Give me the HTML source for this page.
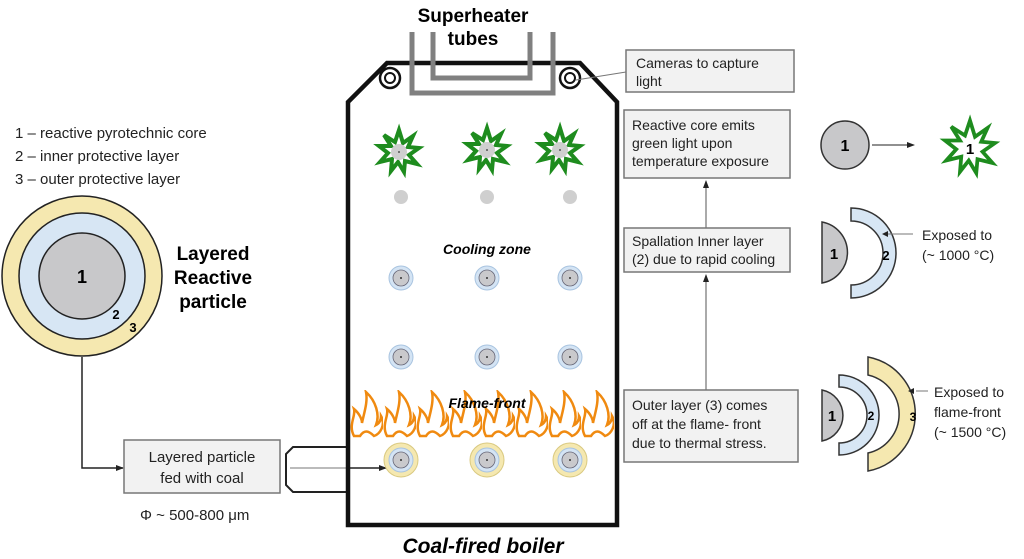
<!DOCTYPE html>
<html><head><meta charset="utf-8"><style>
body{margin:0;background:#fff}
svg{display:block;font-family:"Liberation Sans",Arial,sans-serif}
</style></head><body>
<svg width="1024" height="559" viewBox="0 0 1024 559" xmlns="http://www.w3.org/2000/svg">
<defs>
<marker id="ar" markerWidth="8" markerHeight="8" refX="7" refY="4" orient="auto" markerUnits="userSpaceOnUse"><path d="M0,1 L8,4 L0,7 z" fill="#222"/></marker>
<g id="star"><polygon points="0,-22 4,-9 14,-16 9,-5 20,-4 10,3 18,12 6,9 5,20 -1,10 -8,19 -7,7 -19,10 -11,1 -20,-6 -8,-6 -15,-17 -4,-10" fill="#fff" stroke="#1e8c1e" stroke-width="4" stroke-linejoin="miter"/><circle r="8" fill="#cfcfcf"/><circle r="1" fill="#555"/></g>
<g id="pb"><circle r="12" fill="#d4e4f4" stroke="#a9c4e0" stroke-width="1"/><circle r="8" fill="#c9c9cc" stroke="#667" stroke-width="0.8"/><circle r="1" fill="#333"/></g>
<g id="py"><circle r="17" fill="#f5e8b0" stroke="#d9c980" stroke-width="1"/><use href="#pb"/></g>
<pattern id="fl" x="350" y="390" width="33" height="48" patternUnits="userSpaceOnUse">
<path d="M4,46 C-2,35 6,26 4,19 C10,24 12,30 12,33 C14,23 18,12 16,2 C26,11 30,25 26,35 C30,33 31,30 31,26 C36,35 30,44 24,46 C18,40 14,40 10,46 Z" fill="#fff" stroke="#f08a10" stroke-width="2.5"/>
</pattern>
</defs>

<text x="15" y="138" font-size="15" fill="#222">1 – reactive pyrotechnic core</text>
<text x="15" y="161" font-size="15" fill="#222">2 – inner protective layer</text>
<text x="15" y="184" font-size="15" fill="#222">3 – outer protective layer</text>

<circle cx="82" cy="276" r="80" fill="#f5e8b0" stroke="#222" stroke-width="1.5"/>
<circle cx="82" cy="276" r="63" fill="#d7e6f4" stroke="#222" stroke-width="1.5"/>
<circle cx="82" cy="276" r="43" fill="#c8c8ca" stroke="#222" stroke-width="1.5"/>
<text x="82" y="283" font-size="18" font-weight="bold" text-anchor="middle">1</text>
<text x="116" y="319" font-size="13" font-weight="bold" text-anchor="middle">2</text>
<text x="133" y="332" font-size="13" font-weight="bold" text-anchor="middle">3</text>
<text x="213" y="260" font-size="19" font-weight="bold" text-anchor="middle">Layered</text>
<text x="213" y="284" font-size="19" font-weight="bold" text-anchor="middle">Reactive</text>
<text x="213" y="308" font-size="19" font-weight="bold" text-anchor="middle">particle</text>

<polyline points="82,357 82,468 123,468" fill="none" stroke="#222" stroke-width="1.5" marker-end="url(#ar)"/>
<rect x="124" y="440" width="156" height="53" fill="#f2f2f2" stroke="#777" stroke-width="1.5"/>
<text x="202" y="462" font-size="15" text-anchor="middle" fill="#222">Layered particle</text>
<text x="202" y="483" font-size="15" text-anchor="middle" fill="#222">fed with coal</text>
<text x="140" y="520" font-size="15" fill="#222">Φ ~ 500-800 μm</text>

<path d="M348,447 L293,447 L286,454 L286,485 L293,492 L348,492" fill="none" stroke="#222" stroke-width="2"/>
<line x1="290" y1="468" x2="386" y2="468" stroke="#777" stroke-width="1"/>
<line x1="348" y1="468" x2="386" y2="468" stroke="#222" stroke-width="1.5" marker-end="url(#ar)"/>

<polygon points="387,63 580,63 617,102 617,525 348,525 348,102" fill="none" stroke="#111" stroke-width="4.5"/>
<polyline points="412,32 412,93 553,93 553,32" fill="none" stroke="#808080" stroke-width="5"/>
<polyline points="433,32 433,78 530,78 530,32" fill="none" stroke="#808080" stroke-width="5"/>
<circle cx="390" cy="78" r="10" fill="#fff" stroke="#111" stroke-width="2.5"/><circle cx="390" cy="78" r="5" fill="#fff" stroke="#111" stroke-width="2"/>
<circle cx="570" cy="78" r="10" fill="#fff" stroke="#111" stroke-width="2.5"/><circle cx="570" cy="78" r="5" fill="#fff" stroke="#111" stroke-width="2"/>
<text x="473" y="22" font-size="19" font-weight="bold" text-anchor="middle">Superheater</text>
<text x="473" y="45" font-size="19" font-weight="bold" text-anchor="middle">tubes</text>

<use href="#star" x="399" y="152"/><use href="#star" x="487" y="150"/><use href="#star" x="560" y="150"/>
<g fill="#cfcfcf"><circle cx="401" cy="197" r="7"/><circle cx="487" cy="197" r="7"/><circle cx="570" cy="197" r="7"/></g>
<text x="487" y="254" font-size="14" font-weight="bold" font-style="italic" text-anchor="middle">Cooling zone</text>
<use href="#pb" x="401" y="278"/><use href="#pb" x="487" y="278"/><use href="#pb" x="570" y="278"/>
<use href="#pb" x="401" y="357"/><use href="#pb" x="487" y="357"/><use href="#pb" x="570" y="357"/>
<rect x="350" y="390" width="265" height="48" fill="url(#fl)"/>
<text x="487" y="408" font-size="14" font-weight="bold" font-style="italic" text-anchor="middle">Flame-front</text>
<use href="#py" x="401" y="460"/><use href="#py" x="487" y="460"/><use href="#py" x="570" y="460"/>
<text x="483" y="553" font-size="21" font-weight="bold" font-style="italic" text-anchor="middle">Coal-fired boiler</text>

<line x1="626" y1="72" x2="576" y2="80" stroke="#777" stroke-width="1"/>
<rect x="626" y="50" width="168" height="42" fill="#f2f2f2" stroke="#777" stroke-width="1.5"/>
<text x="636" y="68" font-size="14" fill="#222">Cameras to capture</text>
<text x="636" y="86" font-size="14" fill="#222">light</text>

<rect x="624" y="110" width="166" height="68" fill="#f2f2f2" stroke="#777" stroke-width="1.5"/>
<text x="632" y="130" font-size="14" fill="#222">Reactive core emits</text>
<text x="632" y="148" font-size="14" fill="#222">green light upon</text>
<text x="632" y="166" font-size="14" fill="#222">temperature exposure</text>
<circle cx="845" cy="145" r="24" fill="#c8c8ca" stroke="#333" stroke-width="1.5"/>
<text x="845" y="151" font-size="16" font-weight="bold" text-anchor="middle">1</text>
<line x1="872" y1="145" x2="914" y2="145" stroke="#222" stroke-width="1" marker-end="url(#ar)"/>
<g transform="translate(970,148) scale(1.25)"><polygon points="0,-22 4,-9 14,-16 9,-5 20,-4 10,3 18,12 6,9 5,20 -1,10 -8,19 -7,7 -19,10 -11,1 -20,-6 -8,-6 -15,-17 -4,-10" fill="#fff" stroke="#1e8c1e" stroke-width="3"/></g>
<text x="970" y="154" font-size="15" font-weight="bold" text-anchor="middle">1</text>

<line x1="706" y1="228" x2="706" y2="181" stroke="#555" stroke-width="1" marker-end="url(#ar)"/>
<rect x="624" y="228" width="166" height="44" fill="#f2f2f2" stroke="#777" stroke-width="1.5"/>
<text x="632" y="246" font-size="14" fill="#222">Spallation Inner layer</text>
<text x="632" y="264" font-size="14" fill="#222">(2) due to rapid cooling</text>

<line x1="706" y1="390" x2="706" y2="275" stroke="#555" stroke-width="1" marker-end="url(#ar)"/>
<rect x="624" y="390" width="174" height="72" fill="#f2f2f2" stroke="#777" stroke-width="1.5"/>
<text x="632" y="410" font-size="14" fill="#222">Outer layer (3) comes</text>
<text x="632" y="429" font-size="14" fill="#222">off at the flame- front</text>
<text x="632" y="448" font-size="14" fill="#222">due to thermal stress.</text>

<path d="M822,222 A31,31 0 0 1 822,283 Z" fill="#c8c8ca" stroke="#333" stroke-width="1.5"/>
<text x="834" y="259" font-size="15" font-weight="bold" text-anchor="middle">1</text>
<path d="M851,208 A45,45 0 0 1 851,298 L851,285 A32,32 0 0 0 851,221 Z" fill="#d7e6f4" stroke="#333" stroke-width="1.5"/>
<text x="886" y="260" font-size="13" font-weight="bold" text-anchor="middle">2</text>
<line x1="888" y1="234" x2="913" y2="234" stroke="#777" stroke-width="1"/>
<path d="M882,234 l6,-3 v6 z" fill="#222"/>
<text x="922" y="240" font-size="14" fill="#222">Exposed to</text>
<text x="922" y="260" font-size="14" fill="#222">(~ 1000 °C)</text>

<path d="M822,390 A26,26 0 0 1 822,441 Z" fill="#c8c8ca" stroke="#333" stroke-width="1.5"/>
<text x="832" y="421" font-size="15" font-weight="bold" text-anchor="middle">1</text>
<path d="M839,375 A40,40 0 0 1 839,455 L839,443 A28,28 0 0 0 839,387 Z" fill="#d7e6f4" stroke="#333" stroke-width="1.5"/>
<text x="871" y="420" font-size="12" font-weight="bold" text-anchor="middle">2</text>
<path d="M868,357 A58,58 0 0 1 868,471 L868,453 A40,40 0 0 0 868,375 Z" fill="#f5e8b0" stroke="#333" stroke-width="1.5"/>
<text x="913" y="421" font-size="12" font-weight="bold" text-anchor="middle">3</text>
<line x1="916" y1="391" x2="928" y2="391" stroke="#777" stroke-width="1"/>
<path d="M908,391 l6,-3 v6 z" fill="#222"/>
<text x="934" y="397" font-size="14" fill="#222">Exposed to</text>
<text x="934" y="417" font-size="14" fill="#222">flame-front</text>
<text x="934" y="437" font-size="14" fill="#222">(~ 1500 °C)</text>
</svg>
</body></html>
